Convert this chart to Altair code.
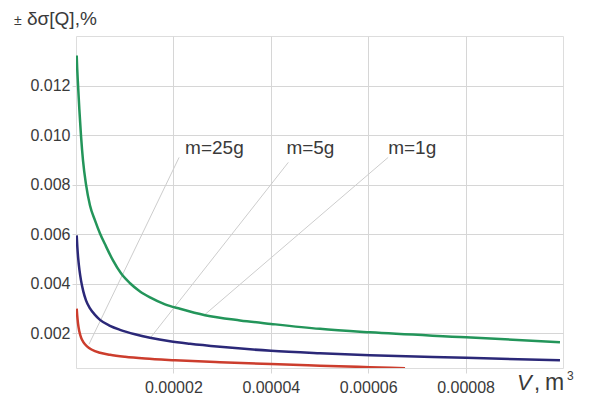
import altair as alt
import pandas as pd

# ---- data ----
green_v = [1.44e-7, 2.46e-7, 4.11e-7, 6.78e-7, 1.027e-6, 1.437e-6, 2.053e-6, 2.875e-6,
           3.90e-6, 4.93e-6, 6.16e-6, 7.60e-6, 9.24e-6, 1.109e-5, 1.314e-5, 1.52e-5,
           1.828e-5, 2.136e-5, 2.649e-5, 3.368e-5, 4.004e-5, 5.01e-5, 6.037e-5,
           8.008e-5, 9.938e-5]
green_y = [0.01321, 0.01269, 0.01204, 0.01107, 0.00998, 0.00898, 0.00801, 0.00716,
           0.00656, 0.00603, 0.00551, 0.00494, 0.00442, 0.00402, 0.00369, 0.00345,
           0.00317, 0.00299, 0.00273, 0.00252, 0.00238, 0.00218, 0.00204,
           0.00184, 0.00164]

blue_v = [1.44e-7, 2.67e-7, 4.52e-7, 7.19e-7, 1.027e-6, 1.499e-6, 2.053e-6, 2.875e-6,
          3.901e-6, 4.928e-6, 6.982e-6, 9.035e-6, 1.2115e-5, 1.52e-5, 1.93e-5, 2.341e-5,
          2.957e-5, 4.004e-5, 5.01e-5, 6.037e-5, 8.008e-5, 9.938e-5]
blue_y = [0.005952, 0.005508, 0.005024, 0.00454, 0.004137, 0.003694, 0.003331, 0.003008,
          0.002746, 0.002544, 0.002302, 0.002141, 0.00196, 0.001819, 0.001677, 0.001577,
          0.001456, 0.001294, 0.001194, 0.001113, 0.001012, 0.000911]

red_v = [1.44e-7, 2.46e-7, 4.11e-7, 6.78e-7, 1.027e-6, 1.54e-6, 2.259e-6, 3.285e-6,
         4.928e-6, 6.982e-6, 1.0062e-5, 1.4168e-5, 2.033e-5, 2.957e-5, 4.004e-5,
         5.01e-5, 6.037e-5, 6.756e-5]
red_y = [0.002996, 0.002726, 0.002403, 0.002081, 0.001839, 0.001637, 0.001476, 0.001335,
         0.001214, 0.001133, 0.001052, 0.00098, 0.000911, 0.000831, 0.000758,
         0.000694, 0.000633, 0.000593]

series_names = ["m=1g", "m=5g", "m=25g"]
series_colors = ["#23955a", "#2b2878", "#cc3d2d"]

label_v = [2.24e-5, 4.32e-5, 6.41e-5]
label_y = [0.00922, 0.00922, 0.00922]
label_text = ["m=25g", "m=5g", "m=1g"]

leader_x1 = [2.117e-5, 4.36e-5, 6.41e-5]
leader_y1 = [0.0091, 0.0089, 0.0091]
leader_x2 = [2.67e-6, 1.52e-5, 2.63e-5]
leader_y2 = [0.00156, 0.0018, 0.00273]

x_ticks = [0.00002, 0.00004, 0.00006, 0.00008]
y_ticks = [0.002, 0.004, 0.006, 0.008, 0.010, 0.012]

# ---- tables ----
rows = []
for name, vs, ys in zip(series_names, [green_v, blue_v, red_v], [green_y, blue_y, red_y]):
    for v, y in zip(vs, ys):
        rows.append({"V": v, "val": y, "m": name})
df = pd.DataFrame(rows)

labels_df = pd.DataFrame({"V": label_v, "val": label_y, "t": label_text})
leaders_df = pd.DataFrame({"x1": leader_x1, "y1": leader_y1, "x2": leader_x2, "y2": leader_y2})

FONT = "Liberation Sans"
GRID = "#d6d6d6"
TEXT = "#3a3a3a"

xs = alt.Scale(domain=[0, 0.0001], nice=False)
ys = alt.Scale(domain=[0.0006, 0.014], nice=False)

x_axis = alt.Axis(values=x_ticks, format=".5f", title=None, grid=True, gridColor=GRID,
                  gridWidth=1, tickColor=GRID, tickSize=5, domain=False,
                  labelFont=FONT, labelFontSize=16, labelColor=TEXT, labelPadding=6)
y_axis = alt.Axis(values=y_ticks, format=".3f", title=None, grid=True, gridColor=GRID,
                  gridWidth=1, tickColor=GRID, tickSize=4, domain=False,
                  labelFont=FONT, labelFontSize=16, labelColor=TEXT, labelPadding=2)

lines = alt.Chart(df).mark_line(strokeWidth=2.5, interpolate="monotone", clip=True).encode(
    x=alt.X("V:Q", scale=xs, axis=x_axis),
    y=alt.Y("val:Q", scale=ys, axis=y_axis),
    color=alt.Color("m:N", scale=alt.Scale(domain=series_names, range=series_colors), legend=None),
)

leaders = alt.Chart(leaders_df).mark_rule(color="#cdcdcd", strokeWidth=1).encode(
    x=alt.X("x1:Q", scale=xs), y=alt.Y("y1:Q", scale=ys),
    x2="x2:Q", y2="y2:Q",
)

labels = alt.Chart(labels_df).mark_text(align="left", baseline="alphabetic", font=FONT,
                                        fontSize=19, color=TEXT).encode(
    x=alt.X("V:Q", scale=xs), y=alt.Y("val:Q", scale=ys), text="t:N",
)

one = pd.DataFrame({"a": [0]})


def txt(s, x, y, size, style="normal"):
    return alt.Chart(one).mark_text(align="left", baseline="alphabetic", font=FONT,
                                    fontSize=size, fontStyle=style, color=TEXT, text=s).encode(
        x=alt.value(x), y=alt.value(y))


ytitle_pm = txt("±", -62, -11, 14)
ytitle_main = txt("δσ[Q],%", -49, -11, 19)
xtitle_v = txt("V", 441, 354, 22, "italic")
xtitle_c = txt(",", 458, 354, 22)
xtitle_m = txt("m", 469, 354, 23)
xtitle_3 = txt("3", 491, 344, 12)

chart = alt.layer(leaders, lines, labels, ytitle_pm, ytitle_main,
                  xtitle_v, xtitle_c, xtitle_m, xtitle_3).properties(
    width=487, height=332,
    autosize=alt.AutoSizeParams(type="none"),
    padding={"left": 76, "top": 36, "right": 32, "bottom": 28},
).configure_view(stroke=GRID, strokeWidth=1).configure(background="white")

chart.save("out.html", embed_options={"renderer": "svg", "actions": False})
